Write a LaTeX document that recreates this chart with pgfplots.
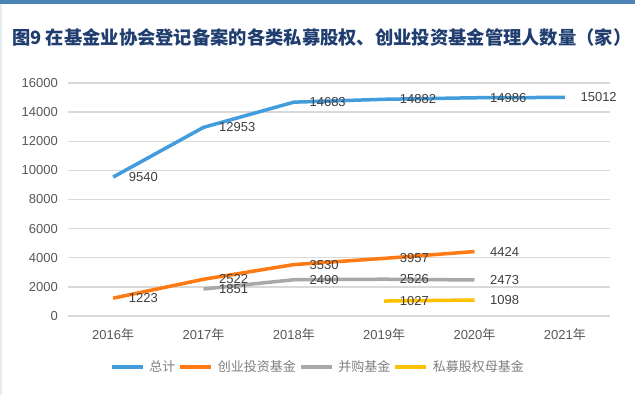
\documentclass[border=0pt]{standalone}
\usepackage{pgfplots}
\pgfplotsset{compat=1.18}
\usepackage{fontspec}
\setmainfont{Liberation Sans}
\newfontfamily\cjk{Noto Sans CJK SC}
\definecolor{cTotal}{HTML}{439CDC}
\definecolor{cVC}{HTML}{FF7A12}
\definecolor{cMA}{HTML}{A8A8A8}
\definecolor{cFoF}{HTML}{FFC000}
\definecolor{cTitle}{HTML}{1F3D6E}
\definecolor{cStripe}{HTML}{4A83B5}
\definecolor{cTick}{HTML}{595959}
\definecolor{cLab}{HTML}{404040}
\definecolor{cGrid}{HTML}{D9D9D9}
\definecolor{cLeg}{HTML}{7F7F7F}
\begin{document}
\begin{tikzpicture}[x=1pt,y=1pt]
\fill[white] (0,0) rectangle (635,395);
\fill[cStripe] (0,391) rectangle (635,395);
\fill[cStripe!15] (0,0) rectangle (1.5,391);
\node[anchor=west, inner sep=0pt, text=cTitle] at (12,357)
  {\cjk\bfseries\fontsize{18.3}{21}\selectfont 图9 在基金业协会登记备案的各类私募股权、创业投资基金管理人数量（家）};
\begin{axis}[
  at={(68pt,79pt)}, anchor=south west,
  width=542pt, height=233pt, scale only axis,
  xmin=-0.5, xmax=5.5, ymin=0, ymax=16000,
  ytick={0,2000,...,16000},
  scaled ticks=false,
  xtick={0,1,2,3,4,5},
  xticklabels={2016{\cjk 年},2017{\cjk 年},2018{\cjk 年},2019{\cjk 年},2020{\cjk 年},2021{\cjk 年}},
  axis line style={draw=none},
  major tick length=0pt,
  ymajorgrids, grid style={cGrid, line width=1.3pt},
  /pgf/number format/assume math mode=true,
  /pgf/number format/1000 sep={},
  ticklabel style={font=\fontsize{13}{15}\selectfont, text=cTick, inner sep=0pt},
  yticklabel style={anchor=east, xshift=-10pt},
  xticklabel style={anchor=center, yshift=-19pt},
  clip=false,
  point meta=explicit symbolic,
  nodes near coords,
  every node near coord/.append style={anchor=west, inner sep=0pt, xshift=14pt,
     font=\fontsize{13}{15}\selectfont, text=cLab},
  legend style={at={(0.459,-0.219)}, anchor=center, draw=none, fill=none,
     legend columns=4, font=\cjk\fontsize{13}{15}\selectfont, text=cLeg,
     nodes={inner sep=0pt}, column sep=0pt},
  legend image code/.code={\draw[#1] (0pt,0pt) -- (31pt,0pt);},
  /tikz/every odd column/.append style={column sep=5pt},
  /tikz/every even column/.append style={column sep=3pt},
  every axis plot/.append style={line width=3.5pt, line join=round},
]
\addplot[cTotal] coordinates {(0,9540)[9540] (1,12953)[12953] (2,14683)[14683] (3,14882)[14882] (4,14986)[14986] (5,15012)[15012]};
\addplot[cVC] coordinates {(0,1223)[1223] (1,2522)[2522] (2,3530)[3530] (3,3957)[3957] (4,4424)[4424]};
\addplot[cMA] coordinates {(1,1851)[1851] (2,2490)[2490] (3,2526)[2526] (4,2473)[2473]};
\addplot[cFoF] coordinates {(3,1027)[1027] (4,1098)[1098]};
\legend{总计,创业投资基金,并购基金,私募股权母基金}
\end{axis}
\end{tikzpicture}
\end{document}
